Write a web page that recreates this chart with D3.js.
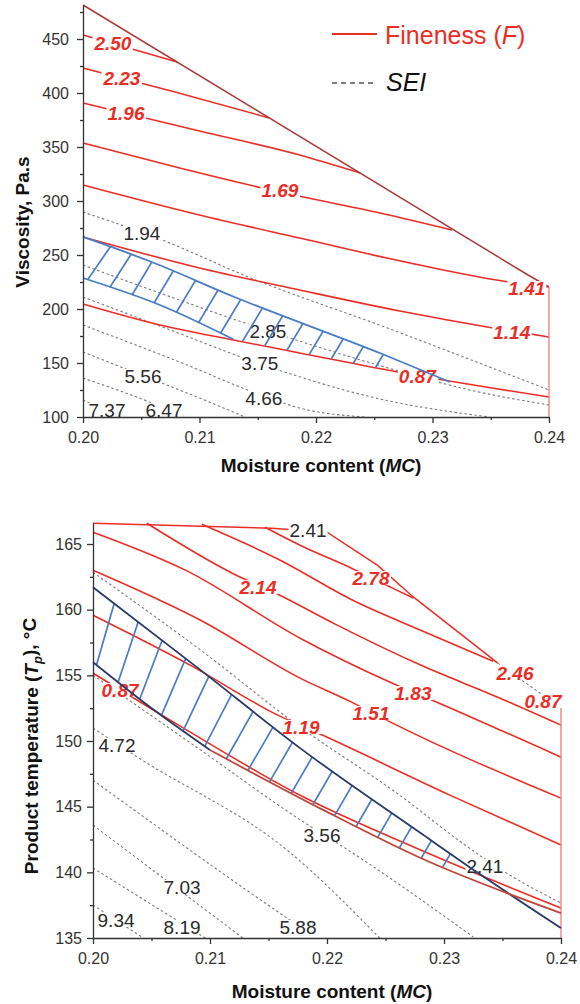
<!DOCTYPE html>
<html lang="en">
<head>
<meta charset="UTF-8">
<title>Fineness and SEI contour plots</title>
<script src="https://cdn.jsdelivr.net/npm/d3@7"></script>
<style>
  body { margin: 0; background: #fff; }
  svg text { font-family: "Liberation Sans", Arial, sans-serif; }
</style>
</head>
<body>
<svg id="viz" width="580" height="1004"></svg>
<script>
// ---------- shared ----------
const mcTicks = [0.20, 0.21, 0.22, 0.23, 0.24];
const mcMinor = [0.205, 0.215, 0.225, 0.235];

// ---------- upper panel: viscosity vs moisture content ----------
const viscTicks = [100, 150, 200, 250, 300, 350, 400, 450];
const viscMinor = [125, 175, 225, 275, 325, 375, 425, 475];

const viscFineness = [
  {label: "2.50", at: [0.20257, 446.3], pts: [[0.2, 453.7], [0.2081, 428.7]]},
  {label: "2.23", at: [0.20334, 413.9], pts: [[0.2, 423.1], [0.2079, 400.9], [0.2160, 376.9]]},
  {label: "1.96", at: [0.20369, 381.5], pts: [[0.2, 390.7], [0.21, 364.8], [0.2186, 342.6], [0.2238, 325.9]]},
  {label: "1.69", at: [0.2169, 310.2], pts: [[0.2, 353.7], [0.2083, 330.6], [0.2169, 308.3], [0.2255, 288.9], [0.2317, 273.1]]},
  {label: "1.41", at: [0.2381, 219.4], pts: [[0.2, 314.8], [0.21, 287], [0.2186, 265.7], [0.2289, 240.7], [0.2366, 225], [0.24, 220.4]]},
  {label: "1.14", at: [0.2368, 178.7], pts: [[0.2, 266.7], [0.21, 238], [0.2186, 217.6], [0.2272, 198.1], [0.2352, 182.4], [0.24, 174.1]]},
  {label: "0.87", at: [0.2287, 138], pts: [[0.2, 204.6], [0.2066, 185.2], [0.2129, 171.3], [0.2186, 159.3], [0.2270, 141.7], [0.24, 118.5]]}
];

const viscSEI = [
  {label: "1.94", at: [0.20506, 270.4], pts: [[0.2, 289.8], [0.2068, 263.9], [0.2142, 229.6], [0.2259, 183.3], [0.24, 125]]},
  {label: "2.85", at: [0.21587, 179.6], pts: [[0.2, 240.7], [0.2066, 214.8], [0.2139, 187], [0.2259, 146.3], [0.2332, 125], [0.24, 111.1]]},
  {label: "3.75", at: [0.21518, 150], pts: [[0.2, 211.1], [0.2075, 180.6], [0.215, 150], [0.2259, 115.7], [0.2349, 100]]},
  {label: "4.66", at: [0.21552, 117.5], pts: [[0.2, 185.2], [0.2083, 150.9], [0.2155, 119.4], [0.2186, 108.3], [0.2242, 100]]},
  {label: "5.56", at: [0.20515, 138], pts: [[0.2, 160.2], [0.2052, 138], [0.21, 117.6], [0.2139, 100]]},
  {label: "6.47", at: [0.20695, 106.5], pts: [[0.2, 136.1], [0.207, 108.3], [0.2088, 100]]},
  {label: "7.37", at: [0.20206, 106.5], pts: [[0.2, 115.7], [0.203, 100]]}
];

const viscBoundary = [[0.2, 481.5], [0.2382, 231.5], [0.24, 220.4]];
const viscEdge = [[0.24, 220.4], [0.24, 100]];
const viscBandTop = [[0.2, 266.7], [0.2059, 243.5], [0.2130, 211.1], [0.2259, 157.4], [0.2315, 132.4]];
const viscBandBottom = [[0.2, 228.7], [0.2066, 203.7], [0.2129, 172], [0.2186, 159.3], [0.2270, 141.7], [0.2315, 133]];
const viscBandEdgeLower = [[0.2, 228.7], [0.2066, 203.7], [0.2129, 172]];

// ---------- lower panel: product temperature vs moisture content ----------
const tempTicks = [135, 140, 145, 150, 155, 160, 165];
const tempMinor = [137.5, 142.5, 147.5, 152.5, 157.5, 162.5];

const tempFineness = [
  {label: "2.78", at: [0.22376, 162.4], pts: [[0.2147, 166.28], [0.2177, 164.91], [0.2221, 163.16], [0.2256, 161.64], [0.2274, 160.88]]},
  {label: "2.46", at: [0.23607, 155.17], pts: [[0.2093, 166.5], [0.2160, 163.77], [0.2222, 160.72], [0.2280, 158.44], [0.2342, 156.08]]},
  {label: "2.14", at: [0.2141, 161.71], pts: [[0.2046, 166.58], [0.2119, 162.78], [0.2158, 161.18], [0.2207, 158.9], [0.2280, 155.78], [0.2348, 153.26], [0.24, 151.21]]},
  {label: "1.83", at: [0.22735, 153.65], pts: [[0.2, 165.9], [0.2079, 163.01], [0.2177, 157.83], [0.2254, 154.48], [0.2290, 153.11], [0.24, 148.77]]},
  {label: "1.51", at: [0.22376, 152.12], pts: [[0.2, 163.01], [0.2092, 159.2], [0.2177, 154.79], [0.2221, 152.96], [0.2256, 151.36], [0.24, 145.65]]},
  {label: "1.19", at: [0.21778, 151.06], pts: [[0.2, 159.58], [0.2083, 155.78], [0.2158, 151.97], [0.2196, 150.45], [0.2305, 145.88], [0.24, 142.08]]},
  {label: "0.87", at: [0.20231, 153.87], pts: [[0.2, 155.17], [0.2066, 151.59], [0.2180, 145.73], [0.2280, 141.7], [0.24, 137.28]]}
];

const tempSEI = [
  {label: "2.41", at: [0.2335, 140.48], pts: [[0.2, 162.85], [0.2092, 156.92], [0.2177, 151.06], [0.2262, 145.88], [0.2318, 142.08], [0.2352, 140.02], [0.24, 137.66]]},
  {label: "3.56", at: [0.21957, 142.84], pts: [[0.2, 155.02], [0.2092, 149.31], [0.218, 143.83], [0.2214, 141.93], [0.2325, 135.08]]},
  {label: "4.72", at: [0.20205, 149.69], pts: [[0.2, 150.98], [0.2038, 148.77], [0.2168, 141.54], [0.2245, 135]]},
  {label: "5.88", at: [0.21752, 135.84], pts: [[0.2, 147.02], [0.2162, 136.75], [0.2177, 135.84]]},
  {label: "7.03", at: [0.20761, 138.88], pts: [[0.2, 143.6], [0.2128, 135]]},
  {label: "8.19", at: [0.20761, 135.84], pts: [[0.2, 140.33], [0.2096, 135]]},
  {label: "9.34", at: [0.20197, 136.37], pts: [[0.2, 137.51], [0.2043, 135]]}
];

const tempBoundary = [[0.2, 166.58], [0.2153, 166.2], [0.22, 165.9], [0.2243, 163.39], [0.2274, 160.95], [0.2346, 155.93]];
const tempBoundaryTail = [[0.2346, 155.93], [0.2399, 152.58]];
const tempEdge = [[0.24, 152.58], [0.24, 135]];
const tempNavyTop = [[0.2, 161.71], [0.2092, 155.4], [0.2177, 149.46], [0.2280, 142.99], [0.2328, 140.02], [0.24, 135.76]];
const tempNavyBottom = [[0.2, 156], [0.2051, 152.43], [0.21, 149.31]];
const tempLowerEdge = [[0.21, 149.31], [0.2197, 144.74], [0.2280, 141.09], [0.24, 136.9]];
const tempBandTop = [[0.2, 161.71], [0.2092, 155.4], [0.2177, 149.46], [0.2280, 142.99], [0.2328, 140.02], [0.2354, 138.5]];
const tempBandBottom = [[0.2, 156], [0.2051, 152.43], [0.21, 149.31], [0.2197, 144.74], [0.2280, 141.09], [0.2354, 138.5]];
const tempExtraLabels = [
  {label: "2.41", at: [0.21838, 166.05], kind: "sei"},
  {label: "0.87", at: [0.23846, 153.04], kind: "fine"}
];

// ---------- styling ----------
const red = "#ea2e26", darkRed = "#a83a3a", paleRed = "#f27a7a";
const grey = "#7a7a7a", blue = "#4a7cc4", navy = "#2a3a66", ink = "#2a2a2a";

const svg = d3.select("#viz");

function drawPanel(p) {
  const x = d3.scaleLinear().domain([0.20, 0.24]).range(p.xRange);
  const y = d3.scaleLinear().domain(p.yDomain).range(p.yRange);
  const g = svg.append("g");
  const straight = d3.line().x(d => x(d[0])).y(d => y(d[1]));
  const smooth = d3.line().x(d => x(d[0])).y(d => y(d[1])).curve(d3.curveMonotoneX);

  // SEI contours
  g.selectAll(".sei").data(p.sei).join("path")
    .attr("class", "sei")
    .attr("d", d => smooth(d.pts))
    .attr("fill", "none").attr("stroke", grey)
    .attr("stroke-width", 1.1).attr("stroke-dasharray", "2.5,2.5");

  // fineness contours
  g.selectAll(".fine").data(p.fine).join("path")
    .attr("class", "fine")
    .attr("d", d => smooth(d.pts))
    .attr("fill", "none").attr("stroke", red).attr("stroke-width", 1.6);

  p.extraLines.forEach(e => {
    g.append("path").attr("d", straight(e.pts))
      .attr("fill", "none").attr("stroke", e.color).attr("stroke-width", e.w)
      .attr("stroke-dasharray", e.dash || null);
  });

  // contour labels, with a white box that breaks the line under the number
  const labels = p.fine.map(d => ({label: d.label, at: d.at, kind: "fine"}))
    .concat(p.sei.map(d => ({label: d.label, at: d.at, kind: "sei"})))
    .concat(p.extraLabels);
  const lab = g.selectAll(".clabel").data(labels).join("g").attr("class", "clabel");
  lab.append("rect").attr("fill", "white");
  lab.append("text")
    .attr("x", d => x(d.at[0])).attr("y", d => y(d.at[1]))
    .attr("dy", "0.36em").attr("text-anchor", "middle")
    .attr("font-size", 19)
    .attr("font-weight", d => d.kind === "fine" ? 700 : 400)
    .attr("font-style", d => d.kind === "fine" ? "italic" : "normal")
    .attr("fill", d => d.kind === "fine" ? red : ink)
    .text(d => d.label);
  lab.each(function(d) {
    const b = d3.select(this).select("text").node().getBBox();
    d3.select(this).select("rect")
      .attr("x", b.x - 1).attr("width", b.width + 2)
      .attr("y", y(d.at[1]) - 7).attr("height", 14);
  });

  // hatched band
  const clipId = p.id + "-clip";
  const poly = p.bandTop.concat(p.bandBottom.slice().reverse());
  g.append("clipPath").attr("id", clipId)
    .append("path").attr("d", straight(poly) + "Z");
  const bottomAt = d3.scaleLinear()
    .domain(p.bandBottom.map(d => d[0])).range(p.bandBottom.map(d => d[1]));
  const slant = d3.scaleLinear().domain([0.2, p.slantAt]).range(p.slant).clamp(true);
  const hatch = d3.range(p.hatchStart, p.hatchEnd, p.hatchStep);
  g.append("g").attr("clip-path", `url(#${clipId})`)
    .selectAll("line").data(hatch).join("line")
      .attr("x1", m => x(m) - slant(m) * 40).attr("y1", m => y(bottomAt(m)) + 40)
      .attr("x2", m => x(m) + slant(m) * 140).attr("y2", m => y(bottomAt(m)) - 140)
      .attr("stroke", blue).attr("stroke-width", 1.7);

  p.bandEdges.forEach(e => {
    g.append("path").attr("d", smooth(e.pts))
      .attr("fill", "none").attr("stroke", e.color).attr("stroke-width", 1.8);
  });

  // axes
  const ax = g.append("g").attr("transform", `translate(0,${p.yRange[0]})`)
    .call(d3.axisBottom(x).tickValues(mcTicks).tickFormat(d3.format(".2f"))
      .tickSize(6).tickSizeOuter(0).tickPadding(p.xPad));
  g.append("g").attr("transform", `translate(0,${p.yRange[0]})`)
    .call(d3.axisBottom(x).tickValues(mcMinor).tickFormat("").tickSize(3))
    .call(a => a.select(".domain").remove());
  const ay = g.append("g").attr("transform", `translate(${p.xRange[0]},0)`)
    .call(d3.axisLeft(y).tickValues(p.yTicks).tickSize(6).tickSizeOuter(0).tickPadding(p.yPad));
  g.append("g").attr("transform", `translate(${p.xRange[0]},0)`)
    .call(d3.axisLeft(y).tickValues(p.yMinor).tickFormat("").tickSize(3))
    .call(a => a.select(".domain").remove());
  g.selectAll(".tick line, .domain").attr("stroke", "#333").attr("stroke-width", 1.3);
  [ax, ay].forEach(a => a.selectAll("text")
    .attr("font-size", 16).attr("fill", "#333"));

  // axis titles
  const xt = g.append("text")
    .attr("x", (p.xRange[0] + p.xRange[1]) / 2 + 5).attr("y", p.xTitleY)
    .attr("text-anchor", "middle").attr("font-size", 19).attr("font-weight", 700).attr("fill", "#111");
  xt.append("tspan").text("Moisture content (");
  xt.append("tspan").attr("font-style", "italic").text("MC");
  xt.append("tspan").text(")");

  const yt = g.append("text")
    .attr("transform", `translate(${p.yTitle[0]},${p.yTitle[1]}) rotate(-90)`)
    .attr("text-anchor", "middle").attr("font-size", 19).attr("font-weight", 700).attr("fill", "#111");
  p.yTitleParts.forEach(t => {
    const s = yt.append("tspan").text(t.text);
    if (t.italic) s.attr("font-style", "italic");
    if (t.dy) s.attr("dy", t.dy);
    if (t.size) s.attr("font-size", t.size);
  });
}

drawPanel({
  id: "visc", xRange: [83, 549], yDomain: [100, 481.5], yRange: [417, 5],
  yTicks: viscTicks, yMinor: viscMinor, xPad: 9, yPad: 8,
  fine: viscFineness, sei: viscSEI, extraLabels: [],
  bandTop: viscBandTop, bandBottom: viscBandBottom,
  hatchStart: 0.2004, hatchEnd: 0.2252, hatchStep: 0.0019, slant: [0.7, 0.6], slantAt: 0.204,
  bandEdges: [{pts: viscBandTop, color: blue}, {pts: viscBandEdgeLower, color: blue}],
  extraLines: [
    {pts: viscBoundary, color: darkRed, w: 1.5},
    {pts: viscEdge, color: paleRed, w: 1.3}
  ],
  xTitleY: 472, yTitle: [29, 222],
  yTitleParts: [{text: "Viscosity, Pa.s"}]
});

drawPanel({
  id: "temp", xRange: [93, 561], yDomain: [135, 166.6], yRange: [938, 523],
  yTicks: tempTicks, yMinor: tempMinor, xPad: 9, yPad: 5,
  fine: tempFineness, sei: tempSEI, extraLabels: tempExtraLabels,
  bandTop: tempBandTop, bandBottom: tempBandBottom,
  hatchStart: 0.2003, hatchEnd: 0.2312, hatchStep: 0.00185, slant: [0.28, 0.58], slantAt: 0.212,
  bandEdges: [{pts: tempNavyTop, color: navy}, {pts: tempNavyBottom, color: navy}, {pts: tempLowerEdge, color: "#c0443a"}],
  extraLines: [
    {pts: tempBoundary, color: red, w: 1.5},
    {pts: tempBoundaryTail, color: grey, w: 1.1, dash: "2.5,2.5"},
    {pts: tempEdge, color: paleRed, w: 1.3}
  ],
  xTitleY: 998, yTitle: [38, 746],
  yTitleParts: [{text: "Product temperature ("}, {text: "T", italic: true},
    {text: "p", italic: true, dy: "0.3em", size: 13}, {text: "), \u00b0C", dy: "-0.3em"}]
});

// legend
const legend = svg.append("g");
legend.append("line").attr("x1", 332).attr("x2", 377).attr("y1", 34).attr("y2", 34)
  .attr("stroke", red).attr("stroke-width", 2.2);
const lf = legend.append("text").attr("x", 385).attr("y", 44)
  .attr("font-size", 25).attr("fill", red);
lf.append("tspan").text("Fineness (");
lf.append("tspan").attr("font-style", "italic").text("F");
lf.append("tspan").text(")");
legend.append("line").attr("x1", 332).attr("x2", 377).attr("y1", 83).attr("y2", 83)
  .attr("stroke", "#555").attr("stroke-width", 1.6).attr("stroke-dasharray", "5,4");
legend.append("text").attr("x", 386).attr("y", 91)
  .attr("font-size", 25).attr("font-style", "italic").attr("fill", "#111").text("SEI");
</script>
</body>
</html>
